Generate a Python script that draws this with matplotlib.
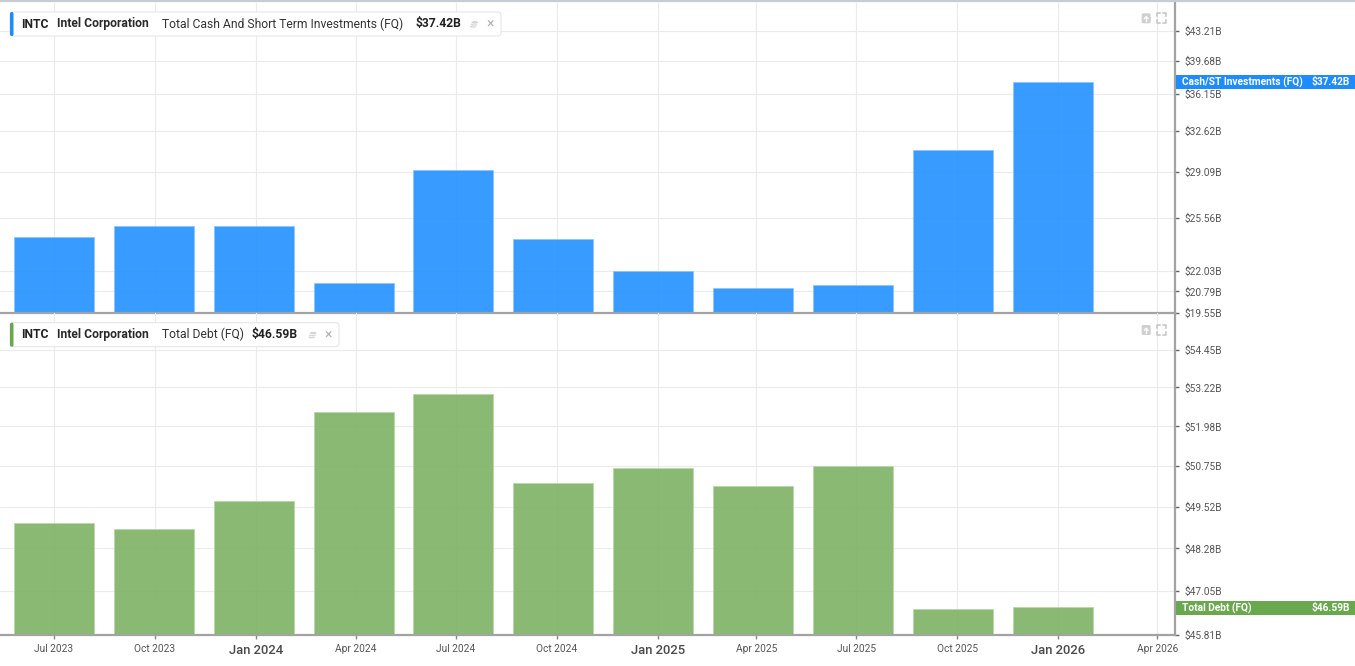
import matplotlib
matplotlib.use('Agg')
import matplotlib.pyplot as plt
import matplotlib.dates as mdates
from matplotlib.patches import FancyBboxPatch, Rectangle, Ellipse
from matplotlib.lines import Line2D
from matplotlib.ticker import NullLocator, NullFormatter
from matplotlib.transforms import IdentityTransform
import numpy as np
import pandas as pd

# ---------------- data ----------------
# fiscal quarter end dates (Intel, 13-week quarters)
period_ends = ['2023-07-01', '2023-09-30', '2023-12-30', '2024-03-30', '2024-06-29',
               '2024-09-28', '2024-12-28', '2025-03-29', '2025-06-28', '2025-09-27',
               '2025-12-27']
cash_st = [24.22, 25.00, 25.00, 21.27, 29.23, 24.06, 22.01, 21.01, 21.17, 30.92, 37.42]
total_debt = [49.02, 48.86, 49.68, 52.43, 53.01, 50.22, 50.68, 50.13, 50.74, 46.54, 46.59]
tick_dates = ['2023-07-01', '2023-10-01', '2024-01-01', '2024-04-01', '2024-07-01',
              '2024-10-01', '2025-01-01', '2025-04-01', '2025-07-01', '2025-10-01',
              '2026-01-01', '2026-04-01']
tick_labels = ['Jul 2023', 'Oct 2023', 'Jan 2024', 'Apr 2024', 'Jul 2024', 'Oct 2024',
               'Jan 2025', 'Apr 2025', 'Jul 2025', 'Oct 2025', 'Jan 2026', 'Apr 2026']
cash_ticks = [19.55, 20.79, 22.03, 25.56, 29.09, 32.62, 36.15, 39.68, 43.21]
debt_ticks = [45.81, 47.05, 48.28, 49.52, 50.75, 51.98, 53.22, 54.45]
cash_last = '$37.42B'
debt_last = '$46.59B'

# ---------------- style ----------------
W, H = 1355, 666
FONT = ['Roboto', 'DejaVu Sans']
NARROW = ['Liberation Sans Narrow', 'Roboto', 'DejaVu Sans']
plt.rcParams['font.family'] = FONT
BLUE_BAR = '#2290ff'
BLUE_TAG = '#1e8cff'
GREEN_BAR = '#7cb264'
GREEN_TAG = '#6aa84f'
GRID = '#ebebeb'
SPINE = '#a3a3a3'

fig = plt.figure(figsize=(W / 100, H / 100), dpi=100)
fig.patch.set_facecolor('white')

def fy(py):
    return 1 - py / H

X_AXIS_RIGHT = 1175
top_y0, top_y1 = 3, 313.3
bot_y0, bot_y1 = 313.3, 635.3
ax1 = fig.add_axes([0, fy(top_y1), X_AXIS_RIGHT / W, (top_y1 - top_y0) / H])
ax2 = fig.add_axes([0, fy(bot_y1), X_AXIS_RIGHT / W, (bot_y1 - bot_y0) / H])

xd = mdates.date2num(pd.to_datetime(period_ends))
td = mdates.date2num(pd.to_datetime(tick_dates))
px_per_day = 1.0978
anchor_px = 53.9
xlim = (td[0] - anchor_px / px_per_day, td[0] + (X_AXIS_RIGHT - anchor_px) / px_per_day)
bar_w = 80 / px_per_day

# y ranges (log scale)
c_lo = cash_ticks[0]
c_hi = c_lo * np.exp((top_y1 - top_y0) / 356.3)
d_lo = debt_ticks[0]
d_hi = d_lo * np.exp((bot_y1 - bot_y0) / 1653.0)

def style_axis(ax, lo, hi, ticks):
    ax.set_yscale('log')
    ax.set_xlim(*xlim)
    ax.set_ylim(lo, hi)
    ax.set_facecolor('none')
    ax.set_axisbelow(True)
    ax.yaxis.tick_right()
    ax.set_yticks(ticks)
    ax.set_yticklabels([f'${v:.2f}B' for v in ticks])
    ax.yaxis.set_minor_locator(NullLocator())
    ax.yaxis.set_minor_formatter(NullFormatter())
    ax.set_xticks(td)
    ax.xaxis.set_minor_locator(NullLocator())
    ax.grid(True, color=GRID, lw=0.8)
    for s in ['top', 'left']:
        ax.spines[s].set_visible(False)
    for s in ['right', 'bottom']:
        ax.spines[s].set_color(SPINE)
        ax.spines[s].set_linewidth(1.6)
    ax.tick_params(axis='y', which='major', direction='out', length=2.8, width=1,
                   color='#666666', pad=4, labelsize=7.3, labelcolor='#555555')

style_axis(ax1, c_lo, c_hi, cash_ticks)
style_axis(ax2, d_lo, d_hi, debt_ticks)

ax1.tick_params(axis='x', length=0, labelbottom=False)
ax2.set_xticklabels(tick_labels)
ax2.tick_params(axis='x', direction='out', length=2.8, width=1, color='#888888',
                pad=3.5, labelsize=7.3, labelcolor='#555555')
for lab in ax2.get_xticklabels():
    lab.set_family(NARROW)
    if lab.get_text().startswith('Jan'):
        lab.set_fontsize(9.4)
        lab.set_color('#4a4a4a')
        lab.set_fontweight('medium')

ax1.bar(xd, np.array(cash_st) - c_lo, bottom=c_lo, width=bar_w, color=BLUE_BAR,
        alpha=0.9, edgecolor='#8cc4ff', linewidth=0.6, zorder=1)
ax2.bar(xd, np.array(total_debt) - d_lo, bottom=d_lo, width=bar_w, color=GREEN_BAR,
        alpha=0.9, edgecolor='#b9d8aa', linewidth=0.6, zorder=1)

# ---------------- overlays in pixel coords ----------------
ID = IdentityTransform()

def box(x0, y0, x1, y1, **kw):
    p = FancyBboxPatch((x0, H - y1), x1 - x0, y1 - y0, transform=ID, **kw)
    fig.patches.append(p)
    return p

def rect(x0, y0, x1, y1, **kw):
    p = Rectangle((x0, H - y1), x1 - x0, y1 - y0, transform=ID, **kw)
    fig.patches.append(p)
    return p

def line(xs, ys, **kw):
    l = Line2D(xs, [H - y for y in ys], transform=ID, **kw)
    fig.lines.append(l)

def txt(x, y, s, **kw):
    fig.text(x / W, fy(y), s, va='center', **kw)

# top border line
line([0, W], [1.2, 1.2], color='#c6ccd6', lw=1.6)

def legend(y0, y1, x1, accent, title, value, value_x, icon_x, close_x):
    box(10, y0, x1, y1, boxstyle='round,pad=0,rounding_size=3', facecolor='white',
        edgecolor='#e3e6ec', lw=0.8, zorder=5)
    box(10, y0, 13.5, y1, boxstyle='round,pad=0,rounding_size=1.5', facecolor=accent,
        edgecolor='none', zorder=6)
    yc = (y0 + y1) / 2
    txt(20.7, yc, 'INTC', fontsize=8.7, fontweight='bold', color='#222222', zorder=7)
    txt(56.7, yc, 'Intel Corporation', fontsize=8.7, fontweight='bold', color='#2a2a2a', zorder=7)
    txt(162, yc, title, fontsize=8.7, color='#333333', zorder=7)
    txt(value_x, yc, value, fontsize=8.7, fontweight='bold', color='#222222', zorder=7)
    # small coin-stack icon
    for i, dy in enumerate((2.4, 0.4, -1.6)):
        e = Ellipse((icon_x + (i - 1) * 0.8, H - (yc + dy)), 7.5, 3.4, transform=ID,
                    facecolor='#d6d6d6', edgecolor='white', lw=0.5, zorder=7)
        fig.patches.append(e)
    txt(close_x, yc, '×', fontsize=10, color='#b0b0b0', ha='center', zorder=7)

legend(12, 36, 501, BLUE_TAG, 'Total Cash And Short Term Investments (FQ)', cash_last,
       415, 474, 490.5)
legend(322.7, 346.7, 339, GREEN_TAG, 'Total Debt (FQ)', debt_last, 251.7, 312.5, 328.5)

# pane icons (top-right)
def pane_icons(y0):
    box(1141.7, y0, 1150.7, y0 + 10, boxstyle='round,pad=0,rounding_size=1.5',
        facecolor='#cfcfcf', edgecolor='none', zorder=5)
    line([1146.2, 1146.2], [y0 + 7.5, y0 + 3.5], color='white', lw=1.0, zorder=6)
    line([1144.4, 1146.2, 1148.0], [y0 + 5.2, y0 + 3.3, y0 + 5.2], color='white', lw=1.0, zorder=6)
    xa, xb = 1156.5, 1165.5
    ya, yb = y0, y0 + 10
    c = dict(color='#c4c4c4', lw=1.1)
    line([xa, xa, xa + 3], [ya + 3, ya, ya], **c)
    line([xb - 3, xb, xb], [ya, ya, ya + 3], **c)
    line([xa, xa, xa + 3], [yb - 3, yb, yb], **c)
    line([xb - 3, xb, xb], [yb, yb, yb - 3], **c)

pane_icons(13.3)
pane_icons(325)

# right-side value tags
rect(1176, 75, W, 89, facecolor=BLUE_TAG, edgecolor='none', zorder=5)
txt(1182, 82, 'Cash/ST Investments (FQ)', fontsize=7.3, fontweight='bold', color='white', zorder=6)
txt(1350, 82, cash_last, fontsize=7.3, fontweight='bold', color='white', ha='right', zorder=6)
rect(1176, 601, W, 615, facecolor=GREEN_TAG, edgecolor='none', zorder=5)
txt(1182, 608, 'Total Debt (FQ)', fontsize=7.3, fontweight='bold', color='white', zorder=6)
txt(1350, 608, debt_last, fontsize=7.3, fontweight='bold', color='white', ha='right', zorder=6)

fig.savefig('out.png', dpi=100, facecolor='white')
